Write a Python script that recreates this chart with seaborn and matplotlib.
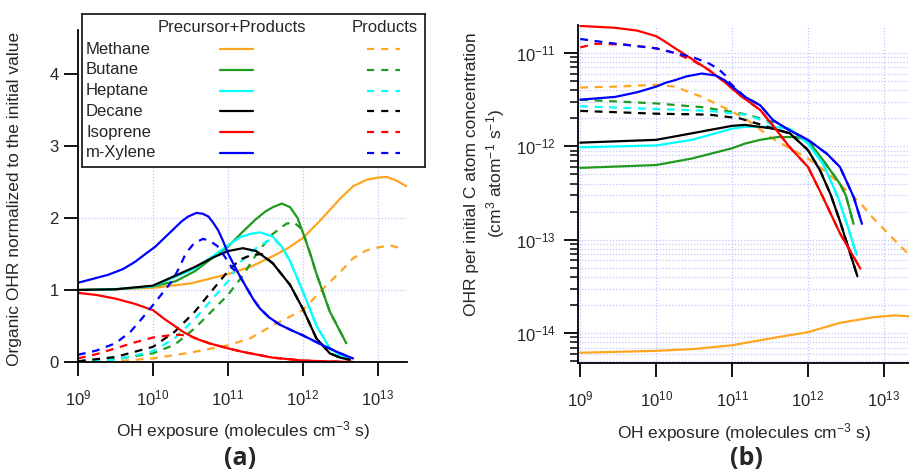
import numpy as np
import pandas as pd
import matplotlib
matplotlib.use('Agg')
import matplotlib.pyplot as plt
from matplotlib.ticker import FixedLocator, LogLocator, NullLocator, NullFormatter, LogFormatterMathtext
import seaborn as sns

COMPOUNDS = ['Methane', 'Butane', 'Heptane', 'Decane', 'Isoprene', 'm-Xylene']
COLORS = ['#FFA520', '#1E9A1E', '#00FFFF', '#000000', '#FF0000', '#0000FF']
KINDS = ['Precursor+Products', 'Products']

# panel (a): (log10 OH exposure, OHR normalized to the initial value)
A_METHANE = [(9, 1.0), (9.5, 1.01), (10, 1.03), (10.5, 1.09), (11, 1.22), (11.3, 1.32), (11.6, 1.47),
             (11.8, 1.58), (12, 1.72), (12.2, 1.93), (12.35, 2.1), (12.5, 2.27), (12.67, 2.44),
             (12.85, 2.53), (13, 2.56), (13.12, 2.57), (13.25, 2.52), (13.38, 2.44)]
A_METHANE_PROD = [(9, 0.0), (9.5, 0.01), (10, 0.05), (10.5, 0.13), (11, 0.23), (11.3, 0.33), (11.6, 0.51),
                  (12, 0.72), (12.3, 1.05), (12.5, 1.25), (12.67, 1.44), (12.85, 1.55), (13, 1.59),
                  (13.16, 1.62), (13.34, 1.57)]
A_BUTANE = [(9, 1.0), (9.5, 1.01), (10, 1.05), (10.3, 1.12), (10.56, 1.26), (10.8, 1.45), (11, 1.6),
            (11.2, 1.81), (11.36, 1.97), (11.5, 2.09), (11.6, 2.15), (11.72, 2.2), (11.83, 2.15),
            (11.93, 2.0), (12, 1.8), (12.1, 1.5), (12.18, 1.23), (12.36, 0.7), (12.5, 0.42), (12.58, 0.26)]
A_BUTANE_PROD = [(9, 0.01), (9.5, 0.04), (10, 0.12), (10.29, 0.24), (10.56, 0.47), (11, 0.93), (11.2, 1.2),
                 (11.4, 1.53), (11.6, 1.78), (11.78, 1.92), (11.88, 1.94), (11.97, 1.86), (12.03, 1.72),
                 (12.1, 1.5), (12.18, 1.23), (12.36, 0.7), (12.5, 0.42), (12.58, 0.26)]
A_HEPTANE = [(9, 1.0), (9.5, 1.01), (10, 1.05), (10.56, 1.3), (10.8, 1.47), (11, 1.62), (11.16, 1.73),
             (11.3, 1.78), (11.43, 1.8), (11.6, 1.74), (11.72, 1.6), (11.83, 1.4), (12, 0.98),
             (12.18, 0.51), (12.36, 0.19), (12.5, 0.09), (12.63, 0.05)]
A_HEPTANE_PROD = [(9, 0.01), (9.5, 0.03), (10, 0.15), (10.29, 0.33), (10.56, 0.6), (11, 1.12), (11.16, 1.38),
                  (11.3, 1.52), (11.43, 1.62), (11.6, 1.72), (11.72, 1.6), (11.83, 1.4), (12, 0.98),
                  (12.18, 0.51), (12.36, 0.19), (12.5, 0.09), (12.63, 0.05)]
A_DECANE = [(9, 1.0), (9.5, 1.01), (10, 1.06), (10.56, 1.32), (10.8, 1.45), (11, 1.54), (11.2, 1.58),
            (11.38, 1.54), (11.6, 1.37), (11.83, 1.07), (12, 0.74), (12.18, 0.33), (12.36, 0.12),
            (12.5, 0.06), (12.63, 0.03)]
A_DECANE_PROD = [(9, 0.01), (9.5, 0.07), (10, 0.21), (10.29, 0.42), (10.56, 0.7), (11, 1.26), (11.16, 1.42),
                 (11.3, 1.48), (11.45, 1.5), (11.6, 1.37), (11.83, 1.07), (12, 0.74), (12.18, 0.33),
                 (12.36, 0.12), (12.5, 0.06), (12.63, 0.03)]
A_ISOPRENE = [(9, 0.96), (9.25, 0.93), (9.5, 0.88), (9.75, 0.81), (10, 0.72), (10.15, 0.6), (10.29, 0.5),
              (10.4, 0.42), (10.56, 0.33), (10.75, 0.26), (11, 0.19), (11.2, 0.14), (11.6, 0.06),
              (12, 0.02), (12.3, 0.01), (12.67, 0.0)]
A_ISOPRENE_PROD = [(9, 0.05), (9.25, 0.11), (9.5, 0.19), (9.75, 0.27), (10, 0.34), (10.29, 0.38),
                   (10.47, 0.37), (10.6, 0.32), (10.75, 0.26), (11, 0.19), (11.2, 0.14), (11.6, 0.06),
                   (12, 0.02), (12.3, 0.01), (12.67, 0.0)]
A_XYLENE = [(9, 1.1), (9.4, 1.21), (9.6, 1.29), (9.76, 1.39), (9.9, 1.5), (10.03, 1.6), (10.17, 1.74),
            (10.29, 1.86), (10.38, 1.95), (10.47, 2.02), (10.58, 2.07), (10.66, 2.06), (10.74, 2.02),
            (10.8, 1.94), (10.87, 1.83), (10.94, 1.67), (11.0, 1.51), (11.07, 1.37), (11.14, 1.23),
            (11.25, 1.03), (11.34, 0.87), (11.43, 0.74), (11.55, 0.62), (11.69, 0.52), (11.85, 0.44),
            (12, 0.37), (12.27, 0.23), (12.5, 0.12), (12.67, 0.05)]
A_XYLENE_PROD = [(9, 0.1), (9.25, 0.16), (9.5, 0.26), (9.7, 0.42), (9.85, 0.6), (10, 0.79), (10.13, 0.96),
                 (10.26, 1.13), (10.36, 1.33), (10.44, 1.51), (10.55, 1.65), (10.67, 1.71), (10.76, 1.68),
                 (10.86, 1.61), (10.96, 1.46), (11.06, 1.3), (11.14, 1.23), (11.25, 1.03), (11.34, 0.87),
                 (11.43, 0.74), (11.55, 0.62), (11.69, 0.52), (11.85, 0.44), (12, 0.37), (12.27, 0.23),
                 (12.5, 0.12), (12.67, 0.05)]

# panel (b): (log10 OH exposure, log10 OHR per initial C atom)
B_METHANE = [(9, -14.21), (10, -14.19), (10.5, -14.17), (11, -14.13), (11.55, -14.05), (12, -13.99),
             (12.42, -13.89), (12.86, -13.83), (13, -13.82), (13.15, -13.81), (13.33, -13.82)]
B_METHANE_PROD = [(9, -11.37), (9.46, -11.36), (10, -11.34), (10.25, -11.36), (10.6, -11.47), (10.91, -11.59),
                  (11.17, -11.7), (11.37, -11.82), (11.54, -11.92), (12, -12.13), (12.25, -12.28),
                  (12.45, -12.43), (12.68, -12.6), (12.86, -12.77), (13.17, -13.03), (13.33, -13.16)]
B_BUTANE = [(9, -12.23), (10, -12.2), (10.47, -12.13), (11, -12.02), (11.17, -11.97), (11.37, -11.93),
            (11.6, -11.9), (11.85, -11.9), (12, -11.94), (12.2, -12.15), (12.42, -12.4), (12.5, -12.53),
            (12.6, -12.83)]
B_BUTANE_PROD = [(9, -11.5), (10, -11.54), (10.6, -11.58), (11, -11.63), (11.2, -11.66), (11.54, -11.74),
                 (11.75, -11.82), (11.92, -11.9), (12, -11.94), (12.2, -12.15), (12.42, -12.4),
                 (12.5, -12.53), (12.6, -12.83)]
B_HEPTANE = [(9, -12.01), (10, -11.99), (10.47, -11.93), (11, -11.81), (11.17, -11.79), (11.54, -11.79),
             (11.76, -11.81), (12, -11.97), (12.2, -12.19), (12.3, -12.37), (12.4, -12.56), (12.5, -12.8),
             (12.64, -13.16)]
B_HEPTANE_PROD = [(9, -11.57), (10, -11.6), (10.7, -11.62), (11.17, -11.66), (11.4, -11.72), (11.6, -11.79),
                  (11.76, -11.81), (12, -11.97), (12.2, -12.19), (12.3, -12.37), (12.4, -12.56),
                  (12.5, -12.8), (12.64, -13.16)]
B_DECANE = [(9, -11.96), (10, -11.93), (10.47, -11.86), (11, -11.78), (11.17, -11.77), (11.54, -11.81),
            (11.76, -11.86), (12, -12.04), (12.16, -12.26), (12.3, -12.52), (12.42, -12.8), (12.65, -13.39)]
B_DECANE_PROD = [(9, -11.62), (10, -11.65), (10.7, -11.66), (11.1, -11.7), (11.35, -11.76), (11.54, -11.81),
                 (11.76, -11.86), (12, -12.04), (12.16, -12.26), (12.3, -12.52), (12.42, -12.8),
                 (12.65, -13.39)]
B_ISOPRENE = [(9, -10.71), (9.46, -10.73), (9.75, -10.76), (10, -10.82), (10.12, -10.88), (10.25, -10.95),
              (10.5, -11.08), (10.69, -11.18), (10.9, -11.31), (11.1, -11.45), (11.37, -11.61),
              (11.54, -11.78), (11.76, -12.01), (12, -12.22), (12.2, -12.55), (12.42, -12.93), (12.69, -13.31)]
B_ISOPRENE_PROD = [(9, -10.94), (9.2, -10.9), (9.6, -10.91), (10, -10.95), (10.25, -11.0), (10.5, -11.09),
                   (10.69, -11.18), (10.9, -11.31), (11.1, -11.45), (11.37, -11.61), (11.54, -11.78),
                   (11.76, -12.01), (12, -12.22), (12.2, -12.55), (12.42, -12.93), (12.69, -13.31)]
B_XYLENE = [(9, -11.5), (9.46, -11.47), (9.75, -11.42), (10, -11.36), (10.12, -11.32), (10.25, -11.29),
            (10.4, -11.25), (10.6, -11.22), (10.78, -11.24), (10.9, -11.29), (11, -11.36), (11.17, -11.47),
            (11.37, -11.56), (11.54, -11.72), (11.76, -11.83), (12, -11.93), (12.25, -12.08),
            (12.42, -12.22), (12.6, -12.54), (12.71, -12.83)]
B_XYLENE_PROD = [(9, -10.85), (9.46, -10.9), (10, -10.95), (10.25, -11.0), (10.5, -11.05), (10.69, -11.11),
                 (10.82, -11.17), (10.91, -11.24), (10.97, -11.32), (11.17, -11.47), (11.37, -11.56),
                 (11.54, -11.72), (11.76, -11.83), (12, -11.93), (12.25, -12.08), (12.42, -12.22),
                 (12.6, -12.54), (12.71, -12.83)]

A_CURVES = [A_METHANE, A_METHANE_PROD, A_BUTANE, A_BUTANE_PROD, A_HEPTANE, A_HEPTANE_PROD,
            A_DECANE, A_DECANE_PROD, A_ISOPRENE, A_ISOPRENE_PROD, A_XYLENE, A_XYLENE_PROD]
B_CURVES = [B_METHANE, B_METHANE_PROD, B_BUTANE, B_BUTANE_PROD, B_HEPTANE, B_HEPTANE_PROD,
            B_DECANE, B_DECANE_PROD, B_ISOPRENE, B_ISOPRENE_PROD, B_XYLENE, B_XYLENE_PROD]
X_TICKS = [1e9, 1e10, 1e11, 1e12, 1e13]
B_Y_TICKS = [1e-14, 1e-13, 1e-12, 1e-11]


def to_frame(curves, log_y):
    rows = []
    for i, pts in enumerate(curves):
        name = COMPOUNDS[i // 2]
        kind = KINDS[i % 2]
        for lx, v in pts:
            rows.append((name, kind, 10.0 ** lx, 10.0 ** v if log_y else v))
    return pd.DataFrame(rows, columns=['compound', 'kind', 'exposure', 'ohr'])


df_a = to_frame(A_CURVES, False)
df_b = to_frame(B_CURVES, True)

sns.set_theme(style='white')
plt.rcParams['font.family'] = ['Liberation Sans', 'DejaVu Sans']
plt.rcParams['mathtext.fontset'] = 'custom'
plt.rcParams['mathtext.rm'] = 'Liberation Sans'
plt.rcParams['mathtext.it'] = 'Liberation Sans:italic'
plt.rcParams['mathtext.bf'] = 'Liberation Sans:bold'
plt.rcParams['mathtext.default'] = 'regular'

W, H = 909, 473
fig = plt.figure(figsize=(W / 100, H / 100), dpi=100)
ax1 = fig.add_axes([78 / W, 1 - 362 / H, 329 / W, 332 / H])
ax2 = fig.add_axes([578 / W, 1 - 363 / H, 331 / W, 338 / H])

palette = dict(zip(COMPOUNDS, COLORS))
dashes = {'Precursor+Products': '', 'Products': (3.5, 3)}
grid_kw = dict(color='#c4c4ff', linestyle=(0, (1, 1.5)), linewidth=0.9)

for ax, df in [(ax1, df_a), (ax2, df_b)]:
    sns.lineplot(data=df, x='exposure', y='ohr', hue='compound', style='kind', palette=palette,
                 dashes=dashes, estimator=None, sort=True, linewidth=1.6, legend=False, ax=ax)
    ax.set_xscale('log')
    ax.xaxis.set_major_locator(FixedLocator(X_TICKS))
    ax.xaxis.set_major_formatter(LogFormatterMathtext())
    ax.xaxis.set_minor_locator(NullLocator())
    for s in ['top', 'right']:
        ax.spines[s].set_visible(False)
    for s in ['left', 'bottom']:
        ax.spines[s].set_color('black')
        ax.spines[s].set_linewidth(1.3)
    ax.tick_params(axis='x', which='major', direction='out', length=10, width=1.3,
                   color='black', labelsize=12, pad=9, bottom=True)
    ax.set_xlabel('OH exposure (molecules cm$^{-3}$ s)', fontsize=12.5)
    ax.xaxis.set_label_coords(0.5, -0.172)
    ax.set_axisbelow(True)

# panel (a)
ax1.set_xlim(1e9, 10 ** 13.39)
ax1.set_ylim(0, 4.61)
ax1.set_yticks([0, 1, 2, 3, 4])
ax1.tick_params(axis='y', direction='out', length=10, width=1.3, color='black',
                labelsize=12, pad=4, left=True)
ax1.grid(True, which='major', **grid_kw)
ax1.set_ylabel('Organic OHR normalized to the initial value', fontsize=12.5)
ax1.yaxis.set_label_coords(-0.17, 0.49)

# panel (b)
ax2.set_yscale('log')
ax2.set_xlim(10 ** 8.97, 10 ** 13.33)
ax2.set_ylim(10 ** -14.32, 10 ** -10.70)
ax2.yaxis.set_major_locator(FixedLocator(B_Y_TICKS))
ax2.yaxis.set_minor_locator(LogLocator(base=10, subs=np.arange(2, 10), numticks=10))
ax2.yaxis.set_major_formatter(LogFormatterMathtext())
ax2.yaxis.set_minor_formatter(NullFormatter())
ax2.tick_params(axis='y', which='major', direction='out', length=10, width=1.3, color='black',
                labelsize=12, pad=6, left=True)
ax2.tick_params(axis='y', which='minor', direction='out', length=5.5, width=1.1, color='black', left=True)
ax2.grid(True, axis='y', which='both', **grid_kw)
ax2.grid(True, axis='x', which='major', **grid_kw)
ax2.set_ylabel('OHR per initial C atom concentration\n(cm$^{3}$ atom$^{-1}$ s$^{-1}$)',
               fontsize=12.5, linespacing=1.3)
ax2.yaxis.set_label_coords(-0.215, 0.56)

# legend panel
lax = fig.add_axes([82 / W, 1 - 167 / H, 343 / W, 153 / H])
lax.set_facecolor('white')
lax.set_xlim(0, 343)
lax.set_ylim(153, 0)
lax.set_xticks([])
lax.set_yticks([])
for s in lax.spines.values():
    s.set_visible(True)
    s.set_color('#222222')
    s.set_linewidth(1.3)
lax.text(150, 14, 'Precursor+Products', ha='center', va='center', fontsize=12)
lax.text(303, 14, 'Products', ha='center', va='center', fontsize=12)
for i, (name, color) in enumerate(zip(COMPOUNDS, COLORS)):
    y = 35 + 20.8 * i
    lax.text(4, y, name, ha='left', va='center', fontsize=12)
    lax.plot([138, 171], [y, y], color=color, lw=1.6)
    lax.plot([285, 318], [y, y], color=color, lw=1.6, dashes=(3.2, 3.2))

fig.text(240 / W, 1 - 458 / H, '(a)', ha='center', va='center', fontsize=18,
         fontweight='bold', family=['Open Sans', 'DejaVu Sans'])
fig.text(746 / W, 1 - 458 / H, '(b)', ha='center', va='center', fontsize=18,
         fontweight='bold', family=['Open Sans', 'DejaVu Sans'])

fig.savefig('out.png', dpi=100)
